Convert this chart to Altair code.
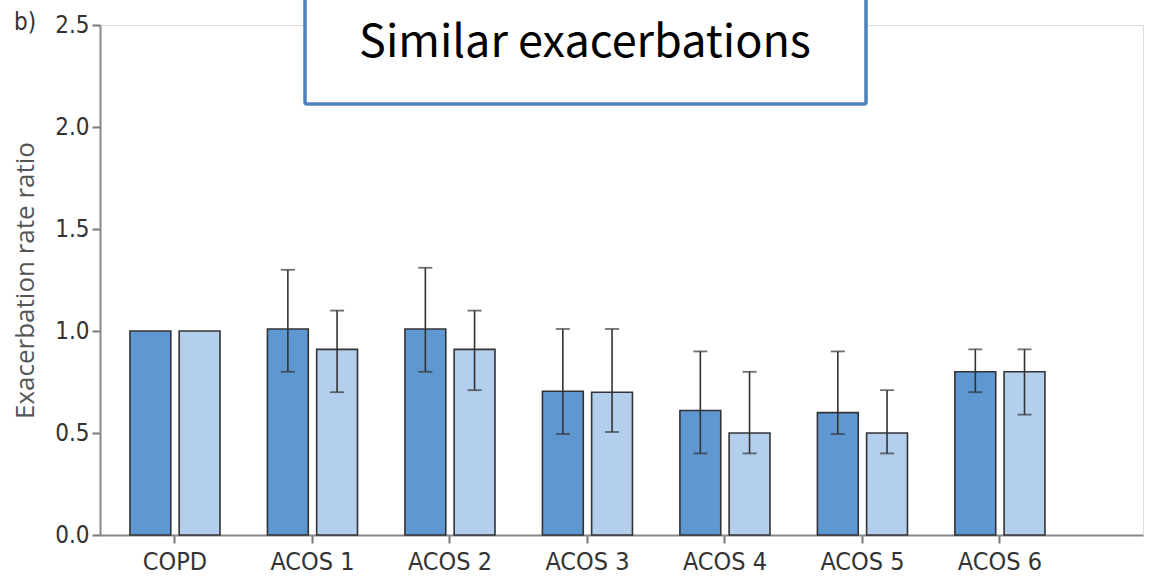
import altair as alt
import pandas as pd

categories = ["COPD", "ACOS 1", "ACOS 2", "ACOS 3", "ACOS 4", "ACOS 5", "ACOS 6"]
series_names = ["Model A", "Model B"]
dark_values = [1.00, 1.01, 1.01, 0.705, 0.61, 0.60, 0.80]
dark_low = [None, 0.80, 0.80, 0.495, 0.40, 0.495, 0.70]
dark_high = [None, 1.30, 1.31, 1.01, 0.90, 0.90, 0.91]
light_values = [1.00, 0.91, 0.91, 0.70, 0.50, 0.50, 0.80]
light_low = [None, 0.70, 0.71, 0.505, 0.40, 0.40, 0.59]
light_high = [None, 1.10, 1.10, 1.01, 0.80, 0.71, 0.91]
title_text = "Similar exacerbations"
panel_label = "b)"
y_title = "Exacerbation rate ratio"
colors = ["#5f97d1", "#b4cfed"]

rows = []
for i, c in enumerate(categories):
    rows.append({"cat": c, "series": series_names[0], "value": dark_values[i],
                 "low": dark_low[i], "high": dark_high[i]})
    rows.append({"cat": c, "series": series_names[1], "value": light_values[i],
                 "low": light_low[i], "high": light_high[i]})
df = pd.DataFrame(rows)
err = df.dropna(subset=["low"])

W, H = 1043, 510
lab_font = "'DejaVu Sans Condensed', 'Liberation Sans Narrow', Roboto, sans-serif"

x_enc = alt.X("cat:N", sort=categories,
              scale=alt.Scale(paddingInner=0.345, paddingOuter=0.4655, align=0.234),
              axis=alt.Axis(title=None, labelAngle=0, labelFont=lab_font, labelFontSize=25,
                            labelColor="#333333", labelPadding=6, tickSize=8,
                            tickColor="#777777", tickWidth=2, domainColor="#888888",
                            domainWidth=2))
xo = alt.XOffset("series:N", sort=series_names,
                 scale=alt.Scale(paddingInner=0.17, paddingOuter=0))

base = alt.Chart(df)

bars = base.mark_bar(stroke="#333333", strokeWidth=1.6).encode(
    x=x_enc,
    xOffset=xo,
    y=alt.Y("value:Q", scale=alt.Scale(domain=[0, 2.5], nice=False, zero=True),
            axis=alt.Axis(values=[0, 0.5, 1.0, 1.5, 2.0, 2.5], format=".1f", grid=False,
                          title=y_title, titleFont="Open Sans", titleFontSize=26,
                          titleFontWeight="normal", titleColor="#555555", titlePadding=16,
                          labelFont=lab_font, labelFontSize=24, labelColor="#333333",
                          labelPadding=3, tickSize=8, tickColor="#777777", tickWidth=2,
                          domainColor="#888888", domainWidth=2)),
    color=alt.Color("series:N", sort=series_names,
                    scale=alt.Scale(domain=series_names, range=colors), legend=None),
)

whisk = alt.Chart(err).mark_rule(color="#333333", strokeWidth=1.6).encode(
    x=alt.X("cat:N", sort=categories), xOffset=xo,
    y="low:Q", y2="high:Q",
)
cap_lo = alt.Chart(err).mark_tick(color="#333333", thickness=1.8, size=14).encode(
    x=alt.X("cat:N", sort=categories), xOffset=xo, y="low:Q",
)
cap_hi = alt.Chart(err).mark_tick(color="#333333", thickness=1.8, size=14).encode(
    x=alt.X("cat:N", sort=categories), xOffset=xo, y="high:Q",
)

box = alt.Chart(pd.DataFrame({"t": [title_text]})).mark_rect(
    fill="white", stroke="#4f81bd", strokeWidth=3.5, cornerRadius=2
).encode(x=alt.value(205), x2=alt.value(766), y=alt.value(-40), y2=alt.value(79))

title = alt.Chart(pd.DataFrame({"t": [title_text]})).mark_text(
    font="Noto Sans CJK KR", fontSize=45, color="#000000", align="center", baseline="middle"
).encode(text="t:N", x=alt.value(485), y=alt.value(18))

plabel = alt.Chart(pd.DataFrame({"t": [panel_label]})).mark_text(
    font=lab_font, fontSize=24, color="#333333", align="left", baseline="middle"
).encode(text="t:N", x=alt.value(-86), y=alt.value(-2))

chart = alt.layer(bars, whisk, cap_lo, cap_hi, box, title, plabel).properties(
    width=W, height=H,
    autosize=alt.AutoSizeParams(type="none"),
    padding={"left": 100, "top": 25, "right": 7, "bottom": 42},
).configure_view(stroke=None).configure(background="white")

chart.save("out.html", embed_options={"renderer": "svg", "actions": False})
